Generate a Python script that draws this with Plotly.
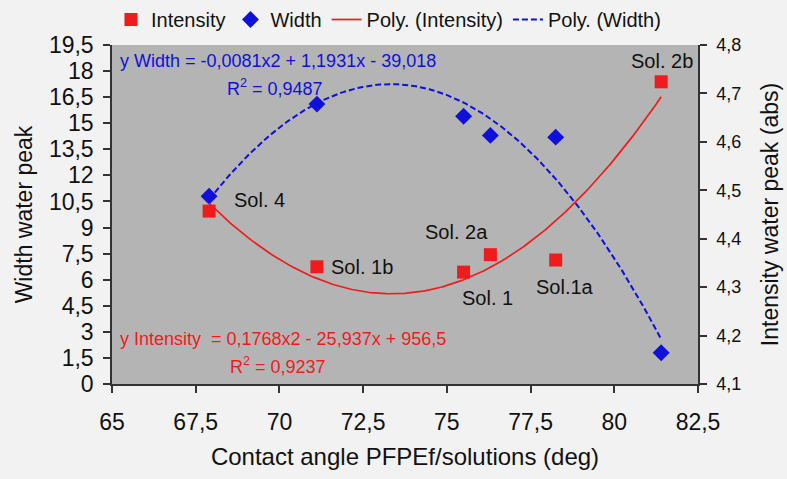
import numpy as np
import plotly.graph_objects as go

# Data
angle = [67.9, 71.12, 75.5, 76.3, 78.25, 81.4]
width = [10.8, 16.1, 15.4, 14.3, 14.2, 1.8]
intensity = [4.457, 4.342, 4.331, 4.367, 4.356, 4.724]
sol_labels = ["Sol. 4", "Sol. 1b", "Sol. 1", "Sol. 2a", "Sol.1a", "Sol. 2b"]

x_ticks = [65, 67.5, 70, 72.5, 75, 77.5, 80, 82.5]
x_tick_text = ["65", "67,5", "70", "72,5", "75", "77,5", "80", "82,5"]

eq_width = "y Width = -0,0081x2 + 1,1931x - 39,018"
r2_width = "R<sup>2</sup> = 0,9487"
eq_int = "y Intensity  = 0,1768x2 - 25,937x + 956,5"
r2_int = "R<sup>2</sup> = 0,9237"

# quadratic trendlines fitted to the data (like Excel's polynomial trendline)
xs = np.linspace(min(angle), max(angle), 200)
pw = np.polyfit(angle, width, 2)
pi = np.polyfit(angle, intensity, 2)
fit_w = np.polyval(pw, xs)
fit_i = np.polyval(pi, xs)

RED = "#ee1c1c"
BLUE = "#1010dd"
FONT = "Liberation Sans, Arial, sans-serif"

fig = go.Figure()
fig.add_trace(go.Scatter(x=angle, y=intensity, mode="markers", name="Intensity",
                         yaxis="y2",
                         marker=dict(symbol="square", size=13, color=RED)))
fig.add_trace(go.Scatter(x=angle, y=width, mode="markers", name="Width",
                         marker=dict(symbol="diamond", size=13, color=BLUE)))
fig.add_trace(go.Scatter(x=xs, y=fit_i, mode="lines", name="Poly. (Intensity)",
                         yaxis="y2", line=dict(color=RED, width=1.7)))
fig.add_trace(go.Scatter(x=xs, y=fit_w, mode="lines", name="Poly. (Width)",
                         line=dict(color=BLUE, width=2, dash="6px,3px")))

# point labels, offset from the intensity points
offsets = {
    "Sol. 4": (23, 11, "left"),
    "Sol. 1b": (12, 0, "left"),
    "Sol. 1": (24, -26, "center"),
    "Sol. 2a": (-34, 23, "center"),
    "Sol.1a": (9, -27, "center"),
    "Sol. 2b": (1, 21, "center"),
}
for xv, yv, lab in zip(angle, intensity, sol_labels):
    dx, dy, anc = offsets[lab]
    fig.add_annotation(x=xv, y=yv, xref="x", yref="y2", text=lab, showarrow=False,
                       xanchor=anc, yanchor="middle", xshift=dx, yshift=dy,
                       font=dict(size=20, color="#111111", family=FONT))

fig.add_annotation(x=0.01, y=0.953, xref="paper", yref="paper", text=eq_width,
                   showarrow=False, xanchor="left", yanchor="middle",
                   font=dict(size=18, color=BLUE, family=FONT))
fig.add_annotation(x=0.278, y=0.876, xref="paper", yref="paper", text=r2_width,
                   showarrow=False, xanchor="center", yanchor="middle",
                   font=dict(size=18, color=BLUE, family=FONT))
fig.add_annotation(x=0.01, y=0.133, xref="paper", yref="paper", text=eq_int,
                   showarrow=False, xanchor="left", yanchor="middle",
                   font=dict(size=18, color=RED, family=FONT))
fig.add_annotation(x=0.283, y=0.056, xref="paper", yref="paper", text=r2_int,
                   showarrow=False, xanchor="center", yanchor="middle",
                   font=dict(size=18, color=RED, family=FONT))

axis_common = dict(showgrid=False, zeroline=False, showline=True, linecolor="#333333",
                   linewidth=1.5, ticks="outside", ticklen=7, tickcolor="#333333",
                   tickwidth=1.5, automargin=False)

fig.update_layout(
    width=787, height=479,
    margin=dict(l=112, r=89, t=45, b=95, autoexpand=False),
    paper_bgcolor="#f2f2f2", plot_bgcolor="#b4b4b4",
    separators=", ",
    font=dict(family=FONT, color="#111111"),
    showlegend=True,
    legend=dict(orientation="h", x=0.141, y=1.0, xref="container", yref="container",
                xanchor="left", yanchor="top",
                bgcolor="rgba(0,0,0,0)", font=dict(size=20, family=FONT),
                itemwidth=30),
    xaxis=dict(range=[65, 82.5], tickvals=x_ticks, ticktext=x_tick_text,
               tickfont=dict(size=23), ticklabelstandoff=10,
               title=dict(text="Contact angle PFPEf/solutions (deg)",
                          font=dict(size=24), standoff=14),
               **axis_common),
    yaxis=dict(range=[0, 19.5], dtick=1.5, tick0=0, tickfont=dict(size=23),
               ticklabelstandoff=5,
               title=dict(text="Width water peak", font=dict(size=23), standoff=10),
               **axis_common),
    yaxis2=dict(range=[4.1, 4.8], dtick=0.1, tick0=4.1, overlaying="y", side="right",
                tickfont=dict(size=18), tickformat=".1f", ticklabelstandoff=6,
                title=dict(text="Intensity water peak (abs)", font=dict(size=23), standoff=22),
                **axis_common),
)

fig.write_html(
    "out.html",
    config={"displayModeBar": False},
    post_script="document.body.style.margin='0';document.body.style.background='#f2f2f2';",
)
